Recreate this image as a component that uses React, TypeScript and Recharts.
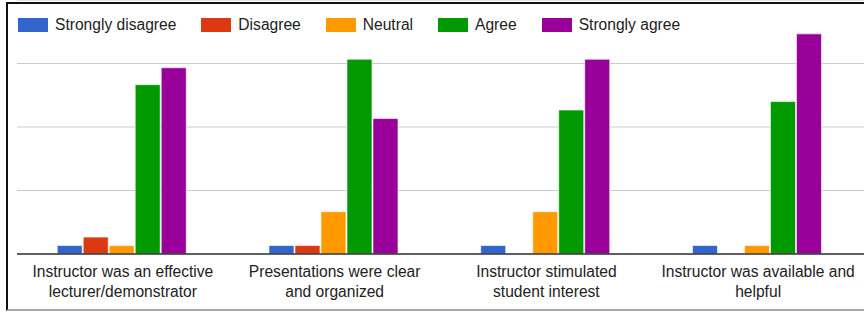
import { BarChart, Bar, XAxis, YAxis, CartesianGrid } from "recharts";

const categories = [
  "Instructor was an effective\nlecturer/demonstrator",
  "Presentations were clear\nand organized",
  "Instructor stimulated\nstudent interest",
  "Instructor was available and\nhelpful",
];

const seriesNames = [
  "Strongly disagree",
  "Disagree",
  "Neutral",
  "Agree",
  "Strongly agree",
];

const stronglyDisagree = [1, 1, 1, 1];
const disagree = [2, 1, 0, 0];
const neutral = [1, 5, 5, 1];
const agree = [20, 23, 17, 18];
const stronglyAgree = [22, 16, 23, 26];

const yTicks = [0, 7.5, 15, 22.5];

const COLORS = ["#3366cc", "#dc3912", "#ff9900", "#009900", "#990099"];

const values = [stronglyDisagree, disagree, neutral, agree, stronglyAgree];

const data = categories.map((name, i) => {
  const row: Record<string, string | number> = { name };
  seriesNames.forEach((s, j) => {
    row[s] = values[j][i];
  });
  return row;
});

const FONT = "'Liberation Sans', Arial, sans-serif";

function WrappedTick(props: any) {
  const { x, y, payload } = props;
  const lines = String(payload.value).split("\n");
  return (
    <text
      x={x}
      y={y}
      textAnchor="middle"
      fill="#222"
      fontSize={15.6}
      fontFamily={FONT}
    >
      {lines.map((line, i) => (
        <tspan key={i} x={x} dy={i === 0 ? 23 : 20}>
          {line}
        </tspan>
      ))}
    </text>
  );
}

export default function App() {
  return (
    <div
      style={{
        position: "fixed",
        left: 0,
        top: 0,
        width: 864,
        height: 312,
        background: "#fff",
        overflow: "hidden",
        fontFamily: FONT,
      }}
    >
      <div
        style={{
          position: "absolute",
          left: 6,
          top: 2,
          width: 880,
          height: 305,
          borderLeft: "2px solid #111",
          borderTop: "2px solid #111",
          borderBottom: "2px solid #aaa",
        }}
      />

      <div
        style={{
          position: "absolute",
          left: 18,
          top: 18,
          display: "flex",
          alignItems: "center",
          height: 14,
        }}
      >
        {seriesNames.map((s, i) => (
          <div
            key={s}
            style={{ display: "flex", alignItems: "center", marginRight: 25 }}
          >
            <div
              style={{
                width: 30,
                height: 14,
                background: COLORS[i],
                marginRight: 7,
              }}
            />
            <span style={{ fontSize: 15.6, color: "#222", lineHeight: "14px" }}>
              {s}
            </span>
          </div>
        ))}
      </div>

      <div style={{ position: "absolute", left: 0, top: 0 }}>
        <BarChart
          width={864}
          height={312}
          data={data}
          margin={{ top: 0, right: 0, bottom: 0, left: 17 }}
          barCategoryGap="19%"
          barGap={1}
        >
          <CartesianGrid vertical={false} stroke="#cccccc" />
          <XAxis
            dataKey="name"
            height={58}
            tickLine={false}
            tickSize={0}
            tickMargin={0}
            axisLine={{ stroke: "#333", strokeWidth: 1.5 }}
            tick={<WrappedTick />}
            interval={0}
          />
          <YAxis hide width={0} domain={[0, 30]} ticks={yTicks} />
          {seriesNames.map((s, i) => (
            <Bar
              key={s}
              dataKey={s}
              fill={COLORS[i]}
              stroke="#ffffff"
              strokeOpacity={0.6}
              strokeWidth={1}
              isAnimationActive={false}
            />
          ))}
        </BarChart>
      </div>
    </div>
  );
}
